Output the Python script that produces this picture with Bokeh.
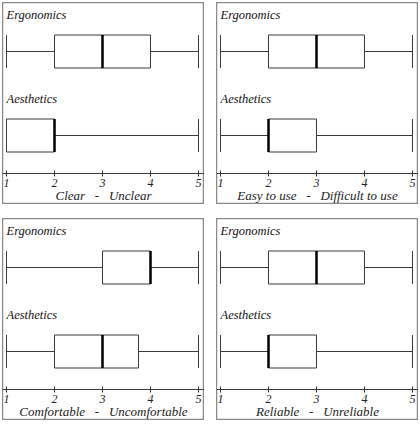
from bokeh.plotting import figure
from bokeh.layouts import column, row
from bokeh.models import Range1d, FixedTicker, ColumnDataSource
from bokeh.core.properties import value
from bokeh.embed import file_html
from bokeh.resources import INLINE

# ---- data ----
NB = "\u00a0"
scale_labels = ["Clear" + NB * 3 + "-" + NB * 3 + "Unclear",
                "Easy to use" + NB * 3 + "-" + NB * 3 + "Difficult to use",
                "Comfortable" + NB * 3 + "-" + NB * 3 + "Uncomfortable",
                "Reliable" + NB * 3 + "-" + NB * 3 + "Unreliable"]
groups = ["Ergonomics", "Aesthetics"]
ticks = [1, 2, 3, 4, 5]
# [min, q1, median, q3, max] per group (Ergonomics, Aesthetics)
clear_erg = [1, 2, 3, 4, 5]
clear_aes = [1, 1, 2, 2, 5]
easy_erg = [1, 2, 3, 4, 5]
easy_aes = [1, 2, 2, 3, 5]
comf_erg = [1, 3, 4, 4, 5]
comf_aes = [1, 2, 3, 3.75, 5]
rel_erg = [1, 2, 3, 4, 5]
rel_aes = [1, 2, 2, 3, 5]

panels = [
    (scale_labels[0], [clear_erg, clear_aes]),
    (scale_labels[1], [easy_erg, easy_aes]),
    (scale_labels[2], [comf_erg, comf_aes]),
    (scale_labels[3], [rel_erg, rel_aes]),
]

FONT = "Liberation Serif"
W, H = 202, 202
PX = 48.0  # pixels per unit
X0 = 1 - 4 / PX
X1 = X0 + W / PX

row_centers = [49, 133]
label_y = [12, 96]
half_h = 16.5
axis_y = 171
line_col = "#3a3a3a"


def make_panel(title, stats):
    p = figure(width=W, height=H, output_backend="svg", toolbar_location=None,
               x_range=Range1d(X0, X1), y_range=Range1d(H, 0),
               y_axis_location=None, min_border=0, min_border_left=0,
               min_border_right=0, min_border_top=0, min_border_bottom=0,
               background_fill_color="white", border_fill_color="white")
    p.outline_line_color = "#8a8a8a"
    p.outline_line_width = 1.5
    p.xgrid.visible = False
    p.ygrid.visible = False

    ax = p.xaxis[0]
    ax.fixed_location = axis_y
    ax.ticker = FixedTicker(ticks=ticks)
    ax.minor_tick_line_color = None
    ax.major_tick_in = 3
    ax.major_tick_out = 3
    ax.axis_line_color = line_col
    ax.major_tick_line_color = line_col
    ax.major_label_text_font = FONT
    ax.major_label_text_font_style = "italic"
    ax.major_label_text_font_size = "12px"
    ax.major_label_text_color = "#222222"
    ax.major_label_standoff = 2
    ax.axis_label = title
    ax.axis_label_text_font = FONT
    ax.axis_label_text_font_style = "italic"
    ax.axis_label_text_font_size = "13px"
    ax.axis_label_text_color = "#222222"
    ax.axis_label_standoff = -2

    mins = [s[0] for s in stats]
    q1s = [s[1] for s in stats]
    meds = [s[2] for s in stats]
    q3s = [s[3] for s in stats]
    maxs = [s[4] for s in stats]
    tops = [c - half_h for c in row_centers]
    bots = [c + half_h for c in row_centers]
    src = ColumnDataSource(dict(mn=mins, q1=q1s, md=meds, q3=q3s, mx=maxs,
                                yc=row_centers, top=tops, bot=bots,
                                ly=label_y, lx=[X0 + 4 / PX] * len(groups),
                                name=groups))
    # whiskers
    p.segment(x0="mn", y0="yc", x1="q1", y1="yc", source=src, line_color=line_col, line_width=1)
    p.segment(x0="q3", y0="yc", x1="mx", y1="yc", source=src, line_color=line_col, line_width=1)
    # caps
    p.segment(x0="mn", y0="top", x1="mn", y1="bot", source=src, line_color=line_col, line_width=1)
    p.segment(x0="mx", y0="top", x1="mx", y1="bot", source=src, line_color=line_col, line_width=1)
    # boxes
    p.quad(left="q1", right="q3", top="top", bottom="bot", source=src,
           fill_color="white", line_color=line_col, line_width=1)
    # medians
    p.segment(x0="md", y0="top", x1="md", y1="bot", source=src, line_color="black", line_width=2.5)
    # group labels
    p.text(x="lx", y="ly", text="name", source=src, text_font=value(FONT),
           text_font_style="italic", text_font_size="12.5px", text_color="#111111",
           text_baseline="middle", text_align="left")
    return p


figs = [make_panel(t, s) for t, s in panels]
layout = column(row(figs[0], figs[1], spacing=12),
                row(figs[2], figs[3], spacing=12),
                spacing=14, margin=(2, 0, 0, 2))

open("out.html", "w").write(file_html(layout, INLINE))
